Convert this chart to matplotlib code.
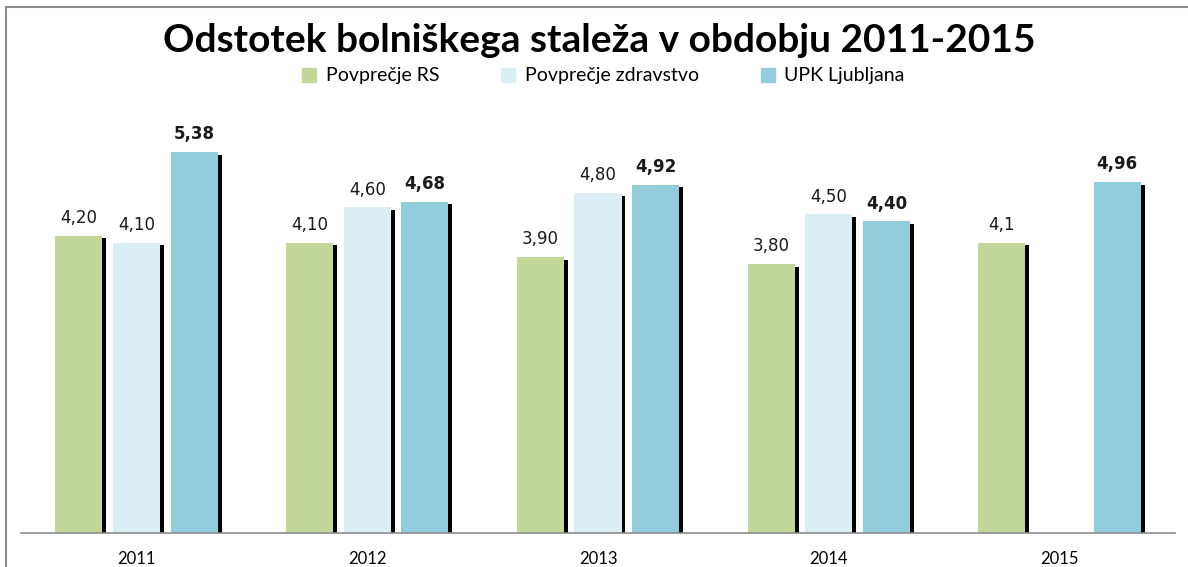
import numpy as np
from matplotlib import patches, pyplot as plt

years = ['2011', '2012', '2013', '2014', '2015']
series_names = ['Povprečje RS', 'Povprečje zdravstvo', 'UPK Ljubljana']
povprecje_rs = [4.20, 4.10, 3.90, 3.80, 4.1]
povprecje_zdr = [4.10, 4.60, 4.80, 4.50, None]
upk = [5.38, 4.68, 4.92, 4.40, 4.96]
labels_rs = ['4,20', '4,10', '3,90', '3,80', '4,1']
labels_zdr = ['4,10', '4,60', '4,80', '4,50', '']
labels_upk = ['5,38', '4,68', '4,92', '4,40', '4,96']

colors = ['#C4D79B', '#DAEEF3', '#92CDDC']

fig = plt.figure(figsize=(11.88, 5.67), dpi=100)
ax = fig.add_axes([21 / 1188, 34 / 567, 1154 / 1188, 425 / 567])

# okvir grafa
fig.patches.append(patches.Rectangle((6 / 1188, -0.1), 1.2, 1.1 - 7 / 567,
                                     transform=fig.transFigure, fill=False,
                                     edgecolor='#8c8c8c', linewidth=1.5))

x = np.arange(len(years))
width = 0.204
offsets = [-0.25, 0.0, 0.25]
data = [povprecje_rs, povprecje_zdr, upk]
labels = [labels_rs, labels_zdr, labels_upk]

for k in range(3):
    for i in range(len(years)):
        v = data[k][i]
        if v is None:
            continue
        xc = x[i] + offsets[k]
        # senca
        ax.bar(xc + 0.017, v - 0.04, width=width, color='black', zorder=1)
        ax.bar(xc, v, width=width, color=colors[k], zorder=2)
        ax.text(xc, v + 0.12, labels[k][i], ha='center', va='bottom',
                fontsize=12, fontweight='bold' if k == 2 else 'normal',
                color='#1a1a1a', family='DejaVu Sans')

ax.set_xlim(-0.5, 4.5)
ax.set_ylim(0, 6)
ax.set_yticks([])
ax.set_xticks(x)
ax.set_xticklabels(years, fontsize=12, family='Lato')
ax.tick_params(axis='x', length=0, pad=13)
for s in ['top', 'right', 'left']:
    ax.spines[s].set_visible(False)
ax.spines['bottom'].set_color('#8c8c8c')
ax.spines['bottom'].set_linewidth(1.2)

fig.text(0.504, 1 - 41 / 567, 'Odstotek bolniškega staleža v obdobju 2011-2015',
         ha='center', va='center', fontsize=28, fontweight='bold', family='Lato')

handles = [patches.Patch(color=c) for c in colors]
fig.legend(handles, series_names, loc='center', bbox_to_anchor=(0.508, 1 - 76 / 567),
           ncol=3, frameon=False, handlelength=0.7, handleheight=0.7,
           columnspacing=3.2, handletextpad=0.5, prop={'family': 'Lato', 'size': 14})

fig.savefig('out.png', dpi=100)
